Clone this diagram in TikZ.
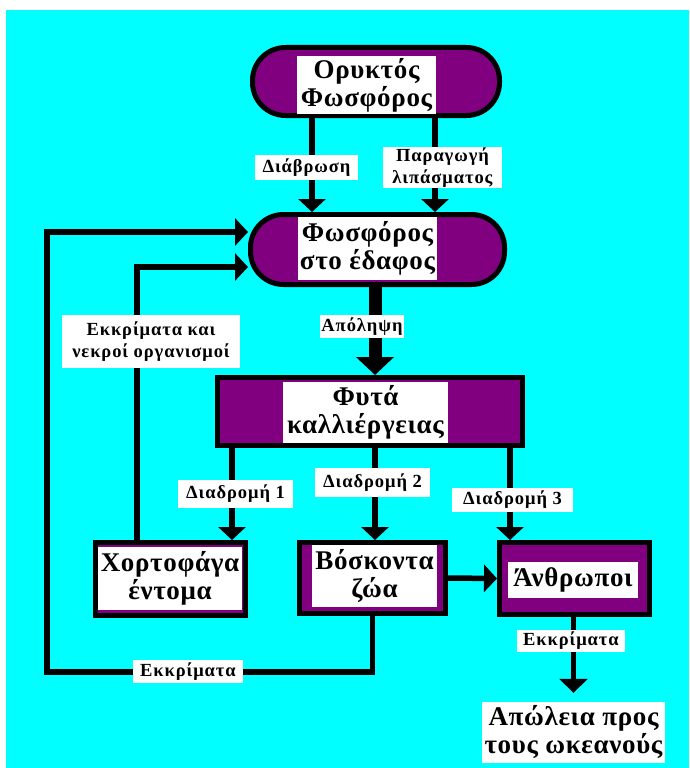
\documentclass[tikz,border=0pt]{standalone}
\usepackage{fontspec}
\setmainfont{Liberation Serif}
\newfontfamily\widefont[LetterSpace=2.5]{Liberation Serif}
\newfontfamily\labfont[LetterSpace=5]{Liberation Serif}
\usetikzlibrary{arrows.meta,calc}
\definecolor{cy}{HTML}{00FFFF}
\definecolor{pur}{HTML}{800080}
\begin{document}
\begin{tikzpicture}[x=1pt,y=-1pt,
  bigfont/.style={font=\widefont\bfseries\fontsize{27}{28}\selectfont, align=center},
  lab/.style={fill=white, font=\labfont\bfseries\fontsize{18.5}{22}\selectfont, align=center, inner sep=1pt},
  stad/.style={draw=black, fill=pur, line width=5pt, rounded corners=33pt},
  pbox/.style={draw=black, fill=pur, line width=5pt},
  txt/.style={fill=white, bigfont, inner sep=0.5pt},
  conn/.style={line width=5.5pt, -{Triangle[width=27pt,length=13pt]}},
  thick conn/.style={line width=13pt, -{Triangle[width=37pt,length=18pt]}}]
\useasboundingbox (0,0) rectangle (689,768);
\fill[white] (0,0) rectangle (689,768);
\fill[cy] (6,10) rectangle (689,768);

% main nodes
\node[stad, minimum width=247pt, minimum height=68pt] (rock) at (376,81.5) {};
\node[txt, minimum width=139pt, minimum height=58pt] (rockT) at (366.5,85) {Ορυκτός\\Φωσφόρος};
\node[stad, minimum width=254pt, minimum height=70pt] (soil) at (377.5,249.5) {};
\node[txt, minimum width=139pt, minimum height=63pt] (soilT) at (367.5,248.5) {Φωσφόρος\\στο έδαφος};
\node[pbox, minimum width=305pt, minimum height=68pt] (crops) at (370,411.5) {};
\node[txt, minimum width=165pt, minimum height=61pt] (cropsT) at (365.5,412.5) {Φυτά\\καλλιέργειας};
\node[pbox, minimum width=150pt, minimum height=73pt] (insects) at (170.5,579) {};
\node[txt, minimum width=144pt, minimum height=63pt] (insectsT) at (170,578.5) {Χορτοφάγα\\έντομα};
\node[pbox, minimum width=146pt, minimum height=71pt] (graze) at (372.5,578) {};
\node[txt, minimum width=125pt, minimum height=62pt] (grazeT) at (374.5,576) {Βόσκοντα\\ζώα};
\node[pbox, minimum width=150pt, minimum height=72pt] (humans) at (574.5,578.5) {};
\node[txt, minimum width=130pt, minimum height=36pt] (humansT) at (573,580) {Άνθρωποι};
\node[txt, minimum width=183pt, minimum height=61pt] (ocean) at (573.5,732.5) {Απώλεια προς\\τους ωκεανούς};

% helper coordinates
\coordinate (xA) at (312,0);
\coordinate (xB) at (435,0);
\coordinate (xU) at (375,0);
\coordinate (p1) at (232,0);
\coordinate (p2) at (375,0);
\coordinate (p3) at (510,0);
\coordinate (cB) at (47,672);
\coordinate (cT) at (47,232);
\coordinate (cI) at (137,267);

% connectors
\draw[conn] (rock.south -| xA) -- (soil.north -| xA);
\draw[conn] (rock.south -| xB) -- (soil.north -| xB);
\draw[thick conn] (soil.south -| xU) -- (crops.north -| xU);
\draw[conn] (crops.south -| p1) -- (insects.north -| p1);
\draw[conn] (crops.south -| p2) -- (graze.north -| p2);
\draw[conn] (crops.south -| p3) -- (humans.north -| p3);
\draw[conn] (graze.east) -- (humans.west);
\draw[conn, -{Triangle[width=28pt,length=14pt]}, shorten >=9pt] (humans.south -| ocean.north) -- (ocean.north);
\draw[conn] (graze.south) |- (cB) -- (cT) -- (soil.west |- cT);
\draw[conn] (insects.north -| cI) |- (soil.west |- cI);

% labels
\node[lab, minimum width=103pt, minimum height=25pt] (lErosion) at (306.5,167.5) {Διάβρωση};
\node[lab, minimum width=119pt, minimum height=41pt] (lFert) at (442.5,167.5) {Παραγωγή\\λιπάσματος};
\node[lab, minimum width=72pt, minimum height=23pt] (lUptake) at (362,326.5) {Απόληψη};
\node[lab, minimum width=178pt, minimum height=53pt] (lExcDead) at (151,341.5) {Εκκρίματα και\\νεκροί οργανισμοί};
\node[lab, minimum width=115pt, minimum height=28pt] (lPath1) at (235.5,494) {Διαδρομή 1};
\node[lab, minimum width=115pt, minimum height=29pt] (lPath2) at (372.5,482.5) {Διαδρομή 2};
\node[lab, minimum width=121pt, minimum height=24pt] (lPath3) at (512.5,500) {Διαδρομή 3};
\node[lab, minimum width=110pt, minimum height=23pt] (lExc1) at (188,671.5) {Εκκρίματα};
\node[lab, minimum width=108pt, minimum height=22pt] (lExc2) at (571,641) {Εκκρίματα};
\end{tikzpicture}
\end{document}
